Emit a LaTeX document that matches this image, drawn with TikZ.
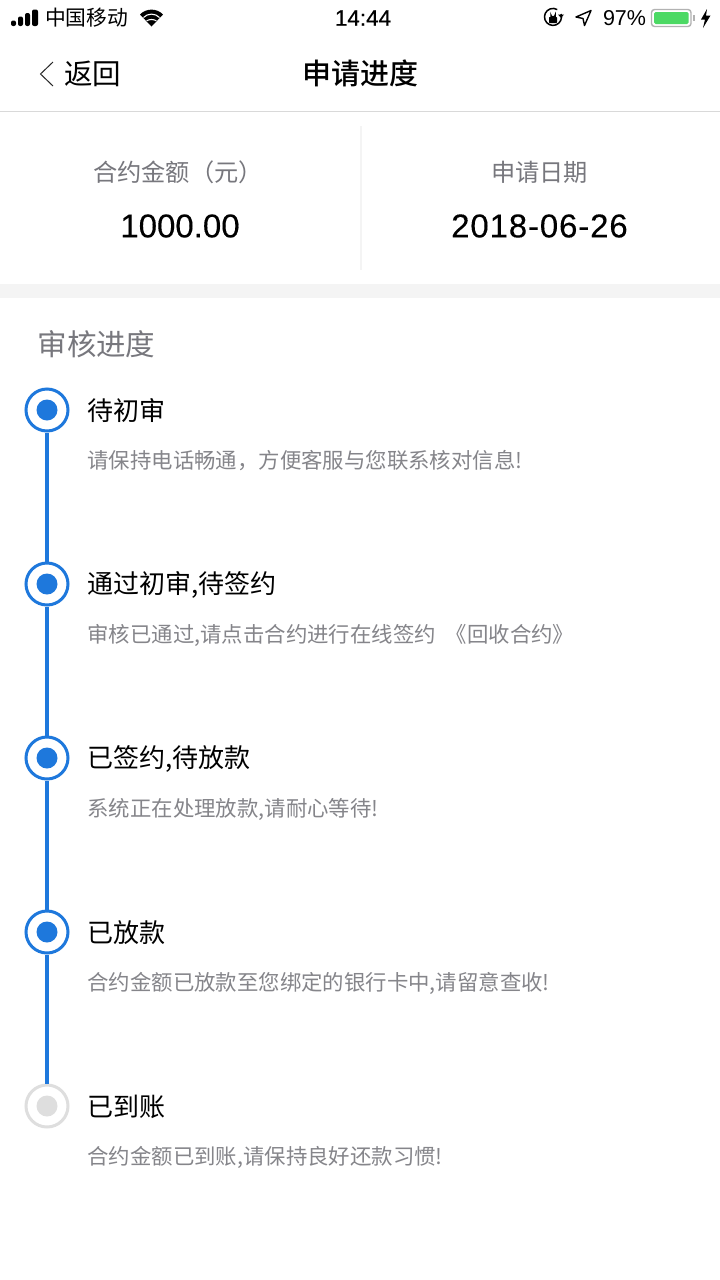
\documentclass[tikz,border=0pt]{standalone}
\usepackage{fontspec}
\setmainfont{Noto Sans CJK SC}
\newfontfamily\latinfont{Liberation Sans}
\newfontfamily\mediumfont{Noto Sans CJK SC Medium}
\newfontfamily\numfont[FakeBold=0.25]{Liberation Sans}
\usetikzlibrary{positioning}
\definecolor{doneblue}{HTML}{1E78DC}
\definecolor{waitgray}{HTML}{DEDEDE}
\definecolor{sepgray}{HTML}{D9D9D9}
\definecolor{bandgray}{HTML}{F4F4F4}
\definecolor{headgray}{HTML}{77777D}
\definecolor{descgray}{HTML}{85858A}
\definecolor{batgreen}{HTML}{4CD964}
\tikzset{
  textnode/.style={inner sep=0pt,outer sep=0pt,text=black},
  statustext/.style={textnode,font=\fontsize{20.8}{24}\selectfont},
  headtext/.style={textnode,text=headgray,font=\fontsize{24.2}{28}\selectfont},
  valuetext/.style={textnode,font=\fontsize{33}{38}\selectfont\numfont},
  titletext/.style={textnode,font=\fontsize{26}{30}\selectfont},
  desctext/.style={textnode,text=descgray,font=\fontsize{21.4}{25}\selectfont},
  donestep/.style={circle,draw=doneblue,line width=3pt,fill=white,minimum size=42pt,inner sep=0pt,outer sep=1.5pt,
    path picture={\fill[doneblue] (path picture bounding box.center) circle (10.5pt);}},
  waitstep/.style={donestep,draw=waitgray,
    path picture={\fill[waitgray] (path picture bounding box.center) circle (10.5pt);}},
  doneline/.style={draw=doneblue,line width=4pt},
}
\begin{document}
\begin{tikzpicture}[x=1pt,y=-1pt]
  \useasboundingbox (0,0) rectangle (720,1280);
  \fill[white] (0,0) rectangle (720,1280);
  % status bar
  \fill[black,rounded corners=2pt] (11,20.5) rectangle (16,26);
  \fill[black,rounded corners=2pt] (18,16.5) rectangle (23,26);
  \fill[black,rounded corners=2pt] (25,13) rectangle (30,26);
  \fill[black,rounded corners=2pt] (32,9.5) rectangle (38,26);
  \node[statustext,anchor=west] (carrier) at (45,18) {中国移动};
  \fill[black] (151.5,26.5) -- (140,14.5) .. controls (146,8) and (157,8) .. (163,14.5) -- cycle;
  \draw[white,line width=1.1pt] (143.5,17.5) .. controls (148,13) and (155,13) .. (159.5,17.5);
  \draw[white,line width=1.1pt] (146.5,21) .. controls (149,19) and (154,19) .. (156.5,21);
  \node[statustext,anchor=center,font=\fontsize{22.5}{25}\selectfont\numfont] (clock) at (363,18) {14:44};
  \draw[black,line width=1.5pt] (561,14) arc (-20:300:8.5);
  \fill[black,rounded corners=0.7pt] (549,17) rectangle (557,23);
  \draw[black,line width=1.1pt] (550.8,17) -- (550.8,14.5) arc (180:0:2.2) -- (555.2,17);
  \fill[black] (558,14.5) -- (564,14.5) -- (561,18) -- cycle;
  \draw[black,line width=1.4pt,line join=round] (576,17) -- (591,10.5) -- (584.5,25.5) -- (583,18.5) -- cycle;
  \node[statustext,anchor=west,font=\fontsize{21.5}{25}\selectfont\latinfont] (percent) at (603,18) {97\%};
  \draw[gray!60,line width=1.4pt,rounded corners=3pt] (651.5,9.5) rectangle (691,26.5);
  \fill[batgreen,rounded corners=1.5pt] (654,12) rectangle (688.5,24);
  \fill[gray!60] (693,15) rectangle (695,21);
  \fill[black] (707,9) -- (701,19.5) -- (705,19.5) -- (703,28) -- (710.5,15.5) -- (706,15.5) -- cycle;
  % navigation bar
  \draw[black!85,line width=1pt] (53,62) -- (40.5,74) -- (53,86);
  \node[textnode,anchor=west,font=\fontsize{28.5}{34}\selectfont] (back) at (64,74) {返回};
  \node[textnode,font=\fontsize{29}{34}\selectfont\mediumfont] (pagetitle) at (360,73) {申请进度};
  \draw[sepgray,line width=1pt] (0,111.5) -- (720,111.5);
  % amount and date
  \node[headtext] (amountlabel) at (178,172) {合约金额（元）};
  \node[valuetext] (amount) at (180,226) {1000.00};
  \node[headtext] (datelabel) at (539.5,172) {申请日期};
  \node[valuetext] (date) [below=54pt of datelabel.center,anchor=center] {\addfontfeature{LetterSpace=2.6}2018-06-26};
  \draw[bandgray,line width=2pt] (361,126) -- (361,270);
  \fill[bandgray] (0,284) rectangle (720,298);
  % progress
  \node[textnode,anchor=west,text=headgray,font=\fontsize{29.5}{35}\selectfont] (progress) at (37.5,344) {审核进度};
  \node[donestep] (step_0) at (47,410) {};
  \node[donestep] (step_1) [below=174pt of step_0.center,anchor=center] {};
  \node[donestep] (step_2) [below=174pt of step_1.center,anchor=center] {};
  \node[donestep] (step_3) [below=174pt of step_2.center,anchor=center] {};
  \node[waitstep] (step_4) [below=174pt of step_3.center,anchor=center] {};
  \path[doneline]
    (step_0) -- (step_1)
    (step_1) -- (step_2)
    (step_2) -- (step_3)
    (step_3) -- (step_4);
  \node[titletext] (title_0) at (87.5,411) [anchor=west] {待初审};
  \node[titletext] (title_1) at (87.5,585) [anchor=west] {通过初审,待签约};
  \node[titletext] (title_2) at (87.5,759) [anchor=west] {已签约,待放款};
  \node[titletext] (title_3) at (87.5,933) [anchor=west] {已放款};
  \node[titletext] (title_4) at (87.5,1107) [anchor=west] {已到账};
  \node[desctext] (desc_0) [below=50pt of title_0.west,anchor=west] {请保持电话畅通，方便客服与您联系核对信息!};
  \node[desctext] (desc_1) [below=50pt of title_1.west,anchor=west] {审核已通过,请点击合约进行在线签约\hspace{10pt}《回收合约》};
  \node[desctext] (desc_2) [below=50pt of title_2.west,anchor=west] {系统正在处理放款,请耐心等待!};
  \node[desctext] (desc_3) [below=50pt of title_3.west,anchor=west] {合约金额已放款至您绑定的银行卡中,请留意查收!};
  \node[desctext] (desc_4) [below=50pt of title_4.west,anchor=west] {合约金额已到账,请保持良好还款习惯!};
\end{tikzpicture}
\end{document}
